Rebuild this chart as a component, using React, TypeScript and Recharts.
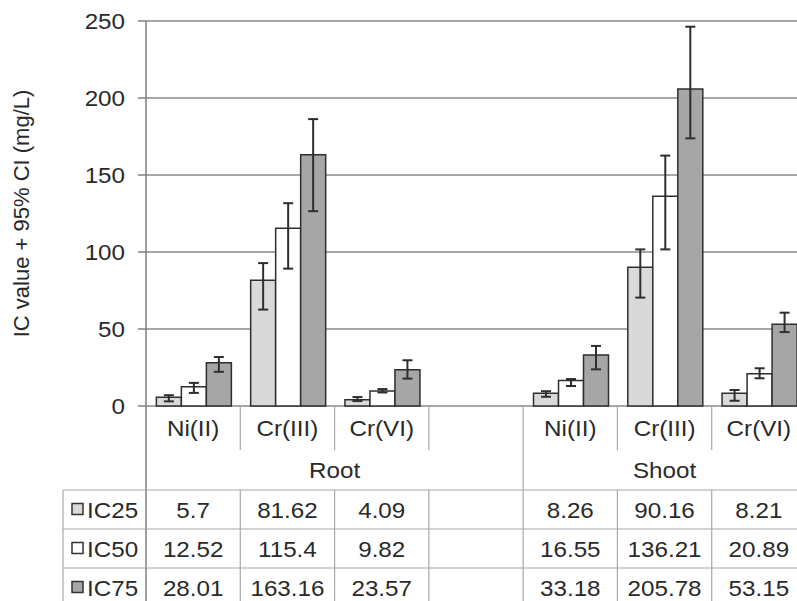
import * as React from 'react';
import {Bar, BarChart, CartesianGrid, ErrorBar, Label, XAxis, YAxis} from 'recharts';

// categories on the x axis (blank column separates root and shoot)
const categories = ['Ni(II)', 'Cr(III)', 'Cr(VI)', '', 'Ni(II)', 'Cr(III)', 'Cr(VI)'];
const groups = [
    {name: 'Root', from: 0, to: 3},
    {name: 'Shoot', from: 4, to: 6},
];
const seriesNames = ['IC25', 'IC50', 'IC75'];

const ic25 = [5.7, 81.62, 4.09, null, 8.26, 90.16, 8.21];
const ic50 = [12.52, 115.4, 9.82, null, 16.55, 136.21, 20.89];
const ic75 = [28.01, 163.16, 23.57, null, 33.18, 205.78, 53.15];

// 95% CI bounds
const ic25Low = [3.0, 62.6, 3.2, null, 6.0, 70.4, 3.4];
const ic25High = [7.0, 92.8, 5.8, null, 9.6, 101.7, 10.4];
const ic50Low = [8.5, 89.2, 8.8, null, 13.0, 101.7, 18.0];
const ic50High = [15.0, 131.7, 11.0, null, 17.5, 162.6, 24.5];
const ic75Low = [22.2, 126.5, 17.8, null, 23.8, 173.8, 48.0];
const ic75High = [31.8, 186.3, 29.7, null, 39.0, 246.3, 60.6];

const yTicks = [0, 50, 100, 150, 200, 250];

const errOf = (v: number | null, lo: number | null, hi: number | null) =>
    v == null || lo == null || hi == null ? null : [v - lo, hi - v];

const data = categories.map((name, i) => ({
    name,
    ic25: ic25[i],
    ic50: ic50[i],
    ic75: ic75[i],
    e25: errOf(ic25[i], ic25Low[i], ic25High[i]),
    e50: errOf(ic50[i], ic50Low[i], ic50High[i]),
    e75: errOf(ic75[i], ic75Low[i], ic75High[i]),
}));

const valueRows = [ic25, ic50, ic75];
const fills = ['#d9d9d9', '#ffffff', '#a6a6a6'];

const CHART_W = 806;
const PLOT_LEFT = 146;
const HALF = (CHART_W - PLOT_LEFT) / categories.length / 2;
const TABLE_LEFT = 63;
const LINE = '#a8a8a8';
const TEXT = '#2a2a2a';
const FONT = '"Liberation Sans", Arial, sans-serif';
const FS = 22;

const LABEL_H = 44;
const GROUP_H = 40;
const ROW_H = 39;

// the original text is a little wider than it is tall
const SText = ({x, y, anchor = 'middle', children}: any) => (
    <text
        transform={`translate(${x} ${y}) scale(1.1 1)`}
        x={0}
        y={0}
        textAnchor={anchor}
        dominantBaseline="central"
        fontSize={FS}
        fill={TEXT}
        fontFamily={FONT}>
        {children}
    </text>
);

const YTick = (props: any) => {
    const {x, y, payload} = props;
    return (
        <SText x={x} y={y} anchor="end">
            {payload.value}
        </SText>
    );
};

const CategoryTick = (props: any) => {
    const {x, y, payload, index} = props;
    return (
        <g>
            {index === 0 && <line x1={x - HALF} x2={x - HALF} y1={y} y2={y + LABEL_H} stroke="#808080" strokeWidth={1.5} />}
            <line x1={x + HALF} x2={x + HALF} y1={y} y2={y + LABEL_H} stroke={LINE} strokeWidth={1.2} />
            <SText x={x} y={y + 22}>
                {payload.value}
            </SText>
        </g>
    );
};

const GroupTick = (props: any) => {
    const {x, y, index} = props;
    const starts = groups.filter((g) => g.from === index);
    const ends = groups.filter((g) => g.to === index);
    return (
        <g>
            {index === 0 && <line x1={x - HALF} x2={x - HALF} y1={y} y2={y + GROUP_H} stroke="#808080" strokeWidth={1.5} />}
            {ends.length > 0 && <line x1={x + HALF} x2={x + HALF} y1={y} y2={y + GROUP_H} stroke={LINE} strokeWidth={1.2} />}
            {starts.map((g) => (
                <SText key={g.name} x={x - HALF + ((g.to - g.from + 1) * HALF * 2) / 2} y={y + 20}>
                    {g.name}
                </SText>
            ))}
        </g>
    );
};

const makeRowTick = (row: number) => (props: any) => {
    const {x, y, index} = props;
    const v = valueRows[row][index];
    return (
        <g>
            <line x1={x - HALF} x2={x + HALF} y1={y} y2={y} stroke={LINE} strokeWidth={1.2} />
            <line x1={x + HALF} x2={x + HALF} y1={y} y2={y + ROW_H} stroke={LINE} strokeWidth={1.2} />
            {index === 0 && (
                <g>
                    <line x1={TABLE_LEFT} x2={x - HALF} y1={y} y2={y} stroke={LINE} strokeWidth={1.2} />
                    <line x1={TABLE_LEFT} x2={TABLE_LEFT} y1={y} y2={y + ROW_H} stroke={LINE} strokeWidth={1.2} />
                    <line x1={x - HALF} x2={x - HALF} y1={y} y2={y + ROW_H} stroke="#808080" strokeWidth={1.5} />
                    <rect x={72} y={y + ROW_H / 2 - 6} width={11} height={11} fill={fills[row]} stroke="#333" strokeWidth={1.5} />
                    <SText x={87} y={y + ROW_H / 2 + 1} anchor="start">
                        {seriesNames[row]}
                    </SText>
                </g>
            )}
            <SText x={x} y={y + ROW_H / 2 + 1}>
                {v == null ? '' : String(v)}
            </SText>
        </g>
    );
};

const YLabel = (props: any) => {
    const {viewBox} = props;
    const cx = 21;
    const cy = viewBox.y + viewBox.height / 2;
    return (
        <text
            x={cx}
            y={cy}
            transform={`rotate(-90 ${cx} ${cy})`}
            textAnchor="middle"
            dominantBaseline="central"
            fontSize={FS}
            fill={TEXT}
            fontFamily={FONT}>
            IC value + 95% CI (mg/L)
        </text>
    );
};

export default function App() {
    return (
        <div style={{position: 'absolute', left: 0, top: 0, width: 797, height: 601, overflow: 'hidden', background: '#fff'}}>
            <BarChart
                width={CHART_W}
                height={620}
                data={data}
                barGap={0}
                barCategoryGap="11%"
                margin={{top: 21, right: 0, left: 0, bottom: 13}}>
                <CartesianGrid vertical={false} stroke="#8a8a8a" strokeWidth={1.5} />
                <YAxis
                    width={PLOT_LEFT}
                    domain={[0, 250]}
                    ticks={yTicks}
                    interval={0}
                    tickSize={8}
                    tickMargin={13}
                    stroke="#808080"
                    strokeWidth={1.5}
                    tick={<YTick />}>
                    <Label content={<YLabel />} />
                </YAxis>
                <XAxis xAxisId={0} dataKey="name" height={LABEL_H} interval={0} tickLine={false} axisLine={false} tickSize={0} tickMargin={0} tick={<CategoryTick />} />
                <XAxis xAxisId="group" dataKey="name" height={GROUP_H} interval={0} tickLine={false} axisLine={false} tickSize={0} tickMargin={0} tick={<GroupTick />} />
                <XAxis xAxisId="r0" dataKey="name" height={ROW_H} interval={0} tickLine={false} axisLine={false} tickSize={0} tickMargin={0} tick={makeRowTick(0)} />
                <XAxis xAxisId="r1" dataKey="name" height={ROW_H} interval={0} tickLine={false} axisLine={false} tickSize={0} tickMargin={0} tick={makeRowTick(1)} />
                <XAxis xAxisId="r2" dataKey="name" height={ROW_H} interval={0} tickLine={false} axisLine={false} tickSize={0} tickMargin={0} tick={makeRowTick(2)} />
                <Bar dataKey="ic25" fill={fills[0]} stroke="#2e2e2e" strokeWidth={1.5} isAnimationActive={false}>
                    <ErrorBar dataKey="e25" width={5} stroke="#2e2e2e" strokeWidth={2} direction="y" />
                </Bar>
                <Bar dataKey="ic50" fill={fills[1]} stroke="#2e2e2e" strokeWidth={1.5} isAnimationActive={false}>
                    <ErrorBar dataKey="e50" width={5} stroke="#2e2e2e" strokeWidth={2} direction="y" />
                </Bar>
                <Bar dataKey="ic75" fill={fills[2]} stroke="#2e2e2e" strokeWidth={1.5} isAnimationActive={false}>
                    <ErrorBar dataKey="e75" width={5} stroke="#2e2e2e" strokeWidth={2} direction="y" />
                </Bar>
            </BarChart>
        </div>
    );
}
